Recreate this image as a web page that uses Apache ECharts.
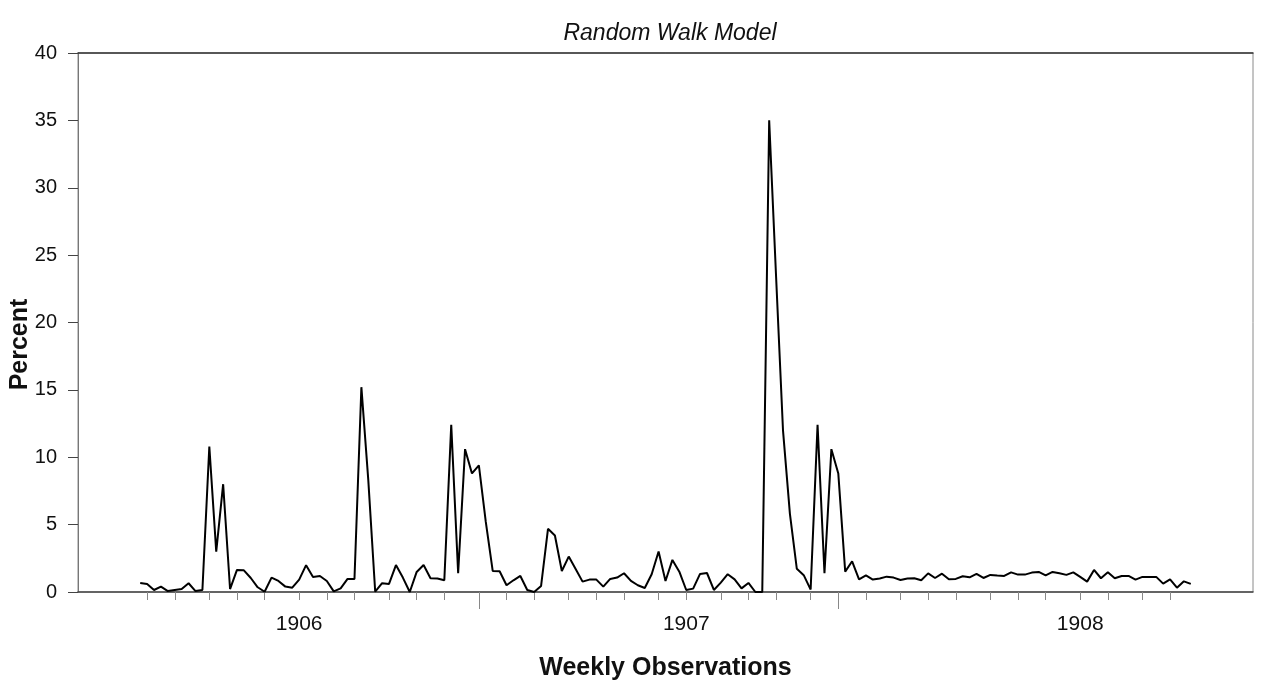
<!DOCTYPE html>
<html>
<head>
<meta charset="utf-8">
<script src="https://cdn.jsdelivr.net/npm/echarts@6/dist/echarts.min.js"></script>
<style>
  html, body { margin: 0; padding: 0; background: #fff; }
  #chart { width: 1264px; height: 693px; }
</style>
</head>
<body>
<div id="chart"></div>
<script>
// ---- data (weekly observations, percent) ----
const values = [
  0.67, 0.6, 0.15, 0.4, 0.07, 0.15, 0.22, 0.65, 0.07, 0.15,
  10.8, 3.0, 8.0, 0.22, 1.64, 1.61, 1.04, 0.35, 0.02, 1.07,
  0.82, 0.4, 0.32, 0.92, 1.99, 1.12, 1.19, 0.82, 0.05, 0.27,
  0.97, 0.97, 15.2, 8.3, 0.02, 0.65, 0.6, 2.0, 1.07, 0.0,
  1.49, 2.0, 1.02, 1.0, 0.87, 12.4, 1.39, 10.6, 8.8, 9.4,
  5.2, 1.56, 1.54, 0.5, 0.87, 1.19, 0.15, 0.0, 0.45, 4.69,
  4.19, 1.56, 2.63, 1.71, 0.77, 0.92, 0.92, 0.4, 0.97, 1.07,
  1.39, 0.82, 0.5, 0.3, 1.32, 3.0, 0.82, 2.38, 1.51, 0.15,
  0.25, 1.34, 1.41, 0.15, 0.7, 1.32, 0.94, 0.27, 0.67, 0.0,
  0.0, 35.0, 23.4, 12.0, 5.8, 1.72, 1.25, 0.18, 12.4, 1.39,
  10.6, 8.8, 1.51, 2.28, 0.94, 1.24, 0.92, 1.0, 1.14, 1.07,
  0.89, 1.0, 1.02, 0.87, 1.38, 1.04, 1.36, 0.94, 0.97, 1.17,
  1.09, 1.34, 1.04, 1.27, 1.22, 1.19, 1.46, 1.29, 1.29, 1.44,
  1.49, 1.24, 1.49, 1.39, 1.27, 1.46, 1.12, 0.77, 1.64, 1.02,
  1.46, 1.02, 1.19, 1.19, 0.92, 1.12, 1.12, 1.12, 0.62, 0.94,
  0.32, 0.79, 0.6
];
// week indices (0-based, within the observations) carrying a monthly tick
const monthTicks = [1, 5, 10, 14, 18, 23, 27, 31, 36, 40, 44, 49, 53, 57, 62, 66, 70, 75,
  79, 84, 88, 92, 97, 101, 105, 110, 114, 118, 123, 127, 131, 136, 140, 145, 149];
// week indices carrying a long (year boundary) tick
const yearTicks = [49, 101];
// year labels and the week index where each is shown
const yearLabels = ['1906', '1907', '1908'];
const yearLabelWeeks = [23, 79, 136];
const yTicks = { min: 0, max: 40, interval: 5 };
const titleText = 'Random Walk Model';
const xTitle = 'Weekly Observations';
const yTitle = 'Percent';

// ---- layout (empty weeks padding the axis on both sides) ----
const PAD_LEFT = 9, PAD_RIGHT = 9;
const categories = [];
for (let i = -PAD_LEFT; i < values.length + PAD_RIGHT; i++) categories.push(String(i + 1));
const seriesData = [].concat(new Array(PAD_LEFT).fill(null), values, new Array(PAD_RIGHT).fill(null));

const FONT = "'Liberation Sans', Arial, Helvetica, sans-serif";

const chart = echarts.init(document.getElementById('chart'), null, { renderer: 'canvas' });
chart.setOption({
  backgroundColor: '#ffffff',
  animation: false,
  title: {
    text: titleText,
    left: 665,
    textAlign: 'center',
    top: 17,
    textStyle: { fontFamily: FONT, fontStyle: 'italic', fontWeight: 'normal', fontSize: 23, color: '#111' }
  },
  grid: {
    left: 78, right: 11, top: 53, bottom: 101,
    containLabel: false,
    outerBoundsMode: 'none',
    show: true, borderColor: '#8a8a8a', borderWidth: 1, backgroundColor: 'transparent'
  },
  xAxis: [
    {
      type: 'category',
      data: categories,
      boundaryGap: false,
      position: 'bottom',
      axisLine: { show: true, onZero: false, lineStyle: { color: '#444', width: 1.5 } },
      axisTick: {
        show: true, length: 8, lineStyle: { color: '#888', width: 1 },
        interval: (idx) => monthTicks.includes(idx - PAD_LEFT)
      },
      axisLabel: {
        show: true, margin: 22, color: '#111', fontFamily: FONT, fontSize: 21,
        interval: (idx) => yearLabelWeeks.includes(idx - PAD_LEFT),
        formatter: (val, idx) => {
          const k = yearLabelWeeks.indexOf(idx - PAD_LEFT);
          return k >= 0 ? yearLabels[k] : '';
        }
      },
      splitLine: { show: false },
      name: xTitle,
      nameLocation: 'middle',
      nameGap: 64,
      nameMoveOverlap: false,
      nameTextStyle: { fontFamily: FONT, fontWeight: 'bold', fontSize: 25, color: '#111' }
    },
    {
      type: 'category',
      data: categories,
      boundaryGap: false,
      position: 'bottom',
      axisLine: { show: false, onZero: false },
      axisTick: {
        show: true, length: 17, lineStyle: { color: '#888', width: 1 },
        interval: (idx) => yearTicks.includes(idx - PAD_LEFT)
      },
      axisLabel: { show: false },
      splitLine: { show: false }
    },
    {
      type: 'category',
      data: categories,
      boundaryGap: false,
      position: 'top',
      axisLine: { show: true, onZero: false, lineStyle: { color: '#333', width: 1.5 } },
      axisTick: { show: false },
      axisLabel: { show: false },
      splitLine: { show: false }
    }
  ],
  yAxis: {
    type: 'value',
    min: yTicks.min, max: yTicks.max, interval: yTicks.interval,
    axisLine: { show: true, onZero: false, lineStyle: { color: '#777', width: 1 } },
    axisTick: { show: true, length: 10, lineStyle: { color: '#444', width: 1 } },
    axisLabel: { margin: 21, color: '#111', fontFamily: FONT, fontSize: 20 },
    splitLine: { show: false },
    name: yTitle,
    nameLocation: 'middle',
    nameRotate: 90,
    nameGap: 45,
    nameMoveOverlap: false,
    nameTextStyle: { fontFamily: FONT, fontWeight: 'bold', fontSize: 25, color: '#111', padding: [0, 44, 0, 0] }
  },
  series: [{
    type: 'line',
    data: seriesData,
    xAxisIndex: 0,
    showSymbol: false,
    symbol: 'none',
    connectNulls: false,
    lineStyle: { color: '#000', width: 2 },
    itemStyle: { color: '#000' }
  }]
});
</script>
</body>
</html>
